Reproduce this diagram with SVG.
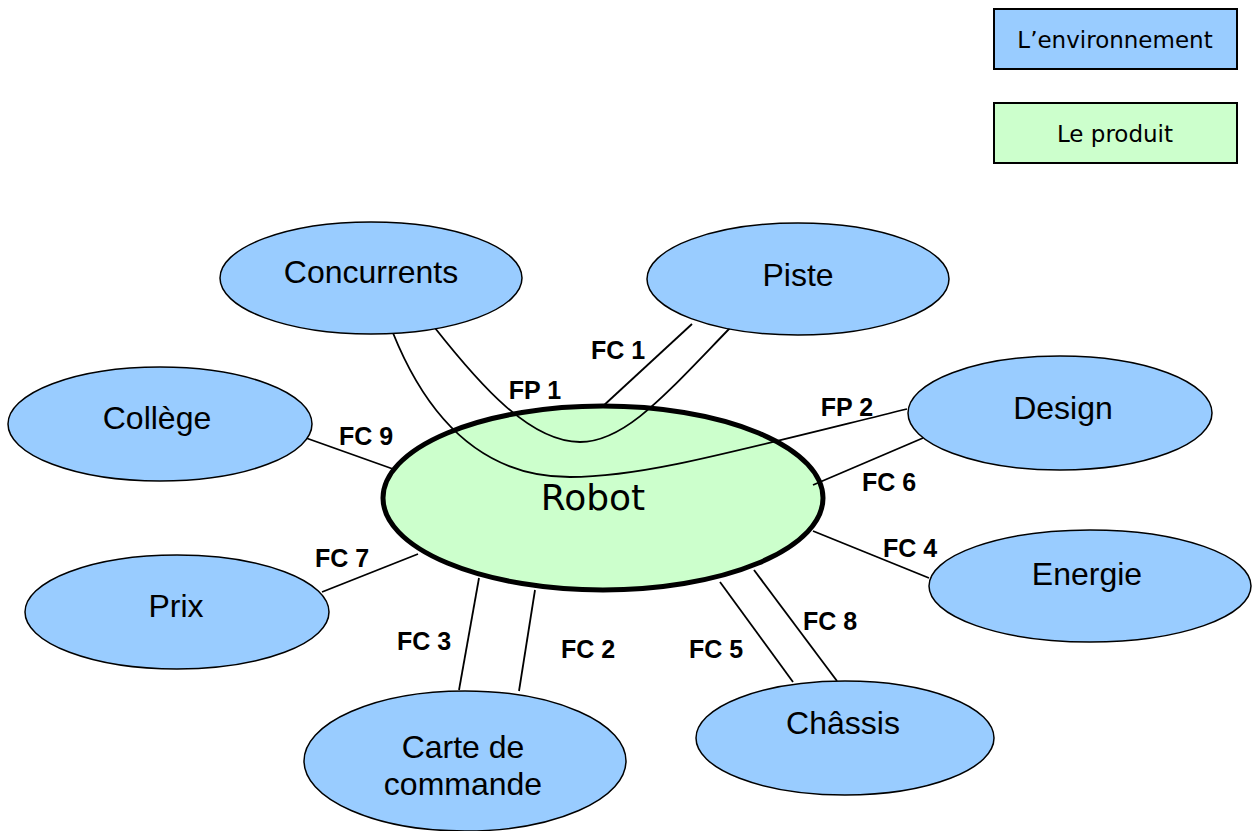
<svg xmlns="http://www.w3.org/2000/svg" width="1252" height="831" viewBox="0 0 1252 831">
<style>
.env{fill:#99ccff;stroke:#000;stroke-width:1.5}
.prod{fill:#ccffcc;stroke:#000;stroke-width:5}
.leg{stroke:#000;stroke-width:2}
.nt{font-family:"Liberation Sans",Arial,sans-serif;font-size:32px;fill:#000;text-anchor:middle}
.lt{font-family:"Comic Sans MS","DejaVu Sans",sans-serif;font-size:23px;fill:#000;text-anchor:middle}
.rt{font-family:"Comic Sans MS","DejaVu Sans",sans-serif;font-size:36px;fill:#000;text-anchor:middle}
.lab{font-family:"Liberation Sans",Arial,sans-serif;font-size:25px;font-weight:bold;fill:#000;text-anchor:middle}
.c{fill:none;stroke:#000;stroke-width:1.8}
</style>
<rect width="1252" height="831" fill="#fff"/>
<g id="legend-env"><rect class="leg" x="994" y="9" width="243" height="60" fill="#99ccff"/><text class="lt" x="1115" y="48">L’environnement</text></g>
<g id="legend-prod"><rect class="leg" x="994" y="103" width="243" height="60" fill="#ccffcc"/><text class="lt" x="1115" y="142">Le produit</text></g>
<g id="robot"><ellipse class="prod" cx="603" cy="498" rx="220" ry="92"/><text class="rt" x="593" y="510">Robot</text></g>
<g id="connectors">
<path class="c" d="M435,328 C480,385 530,442 580,442 C625,442 665,395 730,328"/>
<path class="c" d="M393,333 C420,400 470,477 570,477 C640,477 720,455 907,409"/>
<line class="c" x1="602" y1="407" x2="692" y2="324"/>
<line class="c" x1="813" y1="485" x2="923" y2="438"/>
<line class="c" x1="813" y1="531" x2="929" y2="578"/>
<line class="c" x1="306" y1="438" x2="393" y2="469"/>
<line class="c" x1="322" y1="592" x2="418" y2="554"/>
<line class="c" x1="479" y1="578" x2="459" y2="690"/>
<line class="c" x1="535" y1="590" x2="519" y2="691"/>
<line class="c" x1="720" y1="582" x2="793" y2="682"/>
<line class="c" x1="754" y1="570" x2="837" y2="681"/>
</g>
<g id="labels">
<text class="lab" x="618" y="359">FC 1</text>
<text class="lab" x="535" y="399">FP 1</text>
<text class="lab" x="847" y="416">FP 2</text>
<text class="lab" x="889" y="491">FC 6</text>
<text class="lab" x="366" y="445">FC 9</text>
<text class="lab" x="342" y="567">FC 7</text>
<text class="lab" x="910" y="557">FC 4</text>
<text class="lab" x="424" y="650">FC 3</text>
<text class="lab" x="588" y="658">FC 2</text>
<text class="lab" x="716" y="658">FC 5</text>
<text class="lab" x="830" y="630">FC 8</text>
</g>
<g id="concurrents"><ellipse class="env" cx="371" cy="278" rx="151" ry="56"/><text class="nt" x="371" y="283">Concurrents</text></g>
<g id="piste"><ellipse class="env" cx="798" cy="279" rx="151" ry="56"/><text class="nt" x="798" y="286">Piste</text></g>
<g id="college"><ellipse class="env" cx="160" cy="424" rx="152" ry="57"/><text class="nt" x="157" y="429">Collège</text></g>
<g id="prix"><ellipse class="env" cx="177" cy="612" rx="152" ry="57"/><text class="nt" x="176" y="617">Prix</text></g>
<g id="design"><ellipse class="env" cx="1060" cy="413" rx="152" ry="57"/><text class="nt" x="1063" y="419">Design</text></g>
<g id="energie"><ellipse class="env" cx="1090" cy="586" rx="161" ry="56"/><text class="nt" x="1087" y="585">Energie</text></g>
<g id="chassis"><ellipse class="env" cx="845" cy="738" rx="149" ry="57"/><text class="nt" x="843" y="734">Châssis</text></g>
<g id="carte"><ellipse class="env" cx="465" cy="761" rx="161" ry="70"/><text class="nt" x="463" y="758">Carte de</text><text class="nt" x="463" y="795">commande</text></g>
</svg>
